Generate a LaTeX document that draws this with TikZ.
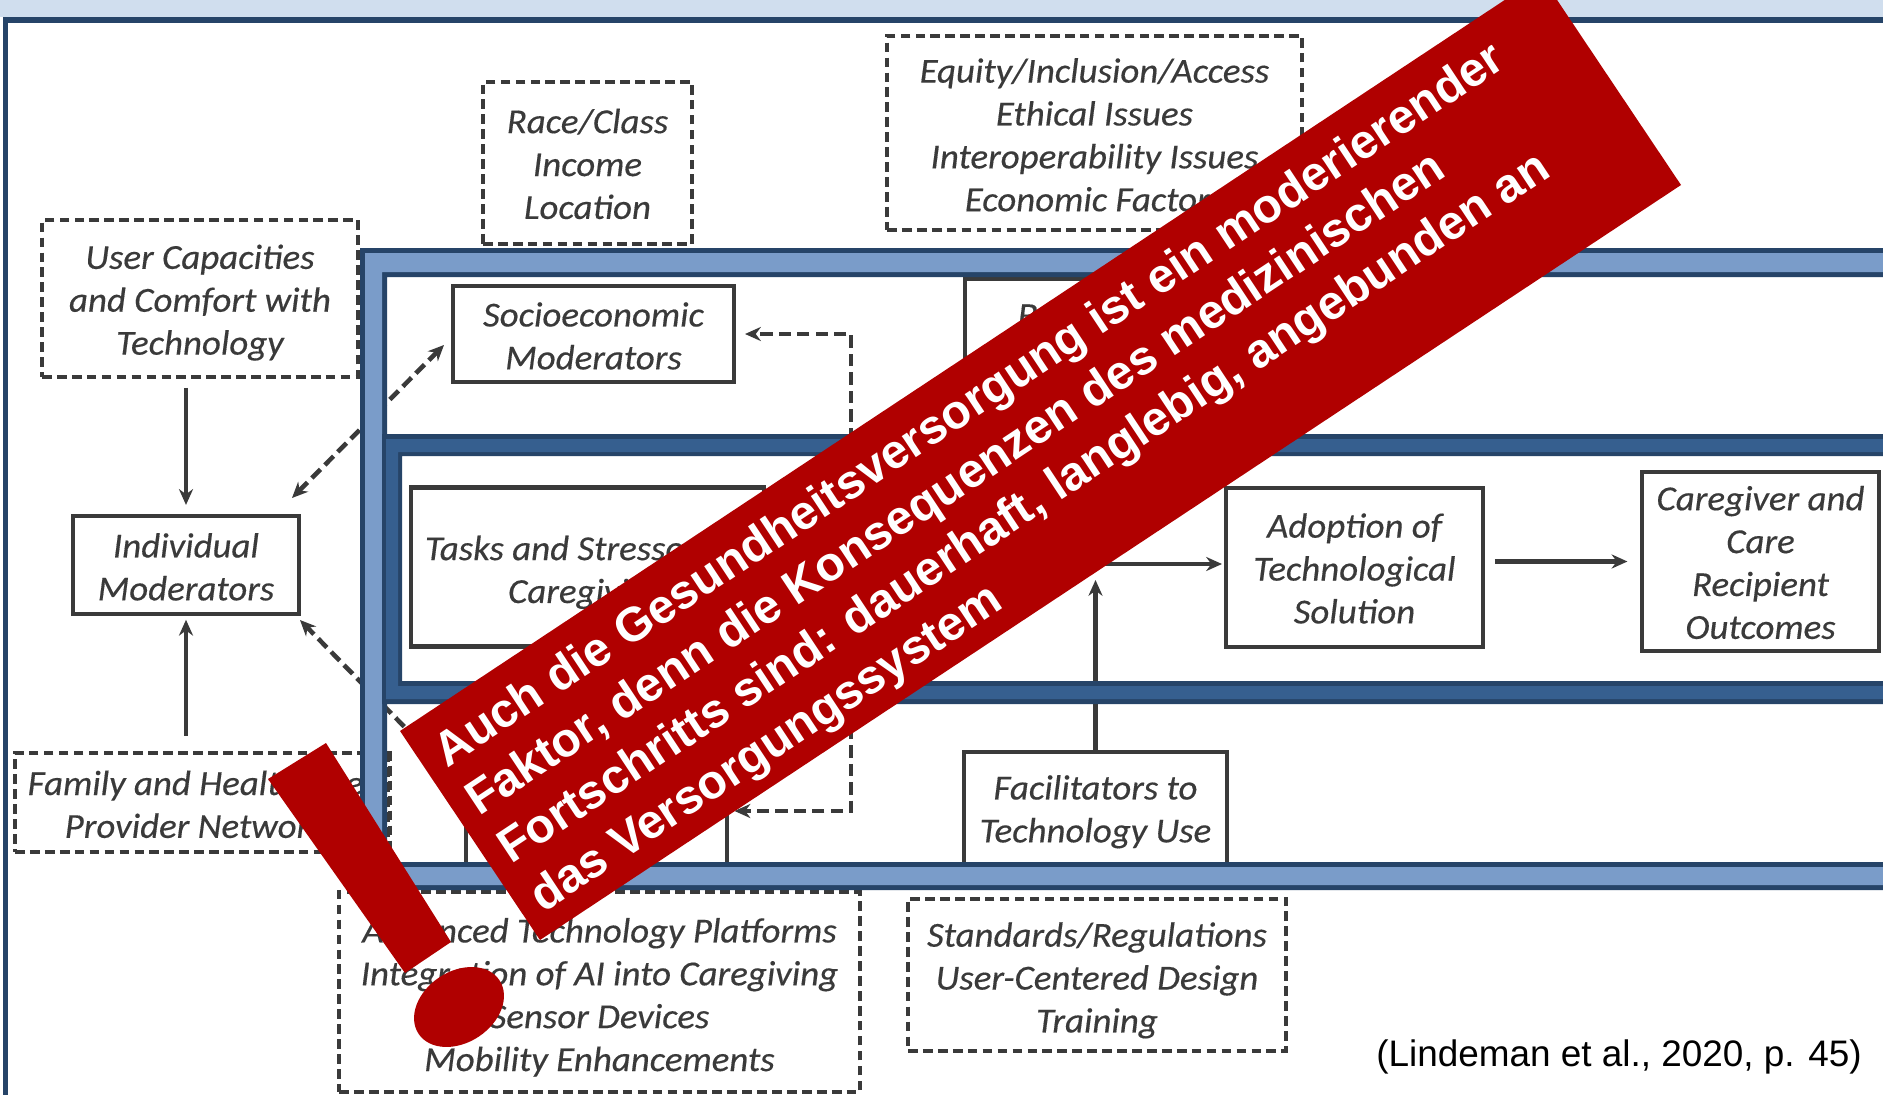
\documentclass[tikz,border=0pt]{standalone}
\usepackage{fontspec}
\setmainfont{Carlito}
\newfontfamily\lblfont{Carlito Italic}[FakeBold=0.35,FakeStretch=1.05]
\newfontfamily\arialfont{Liberation Sans}
\usetikzlibrary{arrows.meta,shapes.geometric}
\definecolor{topband}{HTML}{D0DEEE}
\definecolor{framedark}{HTML}{264468}
\definecolor{lightband}{HTML}{7A9CC9}
\definecolor{midband}{HTML}{365F8F}
\definecolor{ink}{HTML}{3A3A3A}
\definecolor{banner}{HTML}{B00000}
\newcommand{\fl}[1]{\rule{0pt}{#1pt}}
\tikzset{
  x=0.02cm,y=-0.02cm,
  lbl/.style={align=center,inner sep=0pt,text=ink,font=\lblfont\fontsize{20}{24.4}\selectfont},
  solidbox/.style={lbl,draw=ink,line width=2.6pt,fill=white},
  dashbox/.style={lbl,draw=ink,line width=2.4pt,dash pattern=on 5.5pt off 3pt},
  conn/.style={draw=ink,line width=2.4pt,-{Stealth[length=9pt,width=8pt]}},
  dconn/.style={conn,line width=2.6pt,dash pattern=on 7pt off 3.5pt},
  bannertext/.style={align=left,inner sep=0pt,text=white,rotate=33.5,
    font=\arialfont\bfseries\fontsize{27.3}{33}\selectfont}
}
\begin{document}
\begin{tikzpicture}
\useasboundingbox (0,0) rectangle (1883,1095);
\clip (0,0) rectangle (1883,1095);
\fill[white] (0,0) rectangle (1883,1095);
% page frame
\fill[topband] (0,0) rectangle (1883,17);
\fill[framedark] (3,17) rectangle (1883,23);
\fill[framedark] (3,17) rectangle (8,1095);
% dashed factor boxes
\node[dashbox,minimum width=6.32cm,minimum height=3.14cm] (user) at (200,298.5) {\fl{18.5}User Capacities\\and Comfort with\\Technology};
\node[dashbox,minimum width=4.18cm,minimum height=3.24cm] (race) at (587.5,163) {\fl{15}Race/Class\\Income\\Location};
\node[dashbox,minimum width=8.3cm,minimum height=3.88cm] (equity) at (1094.5,133) {\fl{16}Equity/Inclusion/Access\\Ethical Issues\\Interoperability Issues\\Economic Factors};
\node[dashbox,minimum width=7.46cm,minimum height=1.98cm] (family) at (201.5,802.5) {\fl{16}\hspace*{-7pt}Family and Healthcare\\\hspace*{-7pt}Provider Network};
\node[dashbox,minimum width=10.42cm,minimum height=4cm] (advanced) at (599.5,992) {\fl{20}Advanced Technology Platforms\\Integration of AI into Caregiving\\Sensor Devices\\Mobility Enhancements};
\node[dashbox,minimum width=7.56cm,minimum height=3.04cm] (standards) at (1097,975) {\fl{20}Standards/Regulations\\User-Centered Design\\Training};
% solid boxes
\node[solidbox,minimum width=4.52cm,minimum height=1.96cm] (ind) at (186,565) {\fl{16}Individual\\Moderators};
\node[solidbox,minimum width=5.62cm,minimum height=1.92cm] (socio) at (593.5,334) {\fl{16}Socioeconomic\\Moderators};
\node[solidbox,minimum width=5.24cm,minimum height=2.3cm] (barr) at (1096,336.5) {\fl{17}Barriers to\\Technology Use};
\node[solidbox,minimum width=7.06cm,minimum height=3.17cm] (tasks) at (587.5,567) {\fl{20}Tasks and Stressors of\\Caregiving};
\node[solidbox,minimum width=5.14cm,minimum height=3.18cm] (adopt) at (1354.5,567.5) {\fl{15}Adoption of\\Technological\\Solution};
\node[solidbox,minimum width=4.74cm,minimum height=3.58cm] (care) at (1760.5,561.5) {\fl{15}Caregiver and\\Care\\Recipient\\Outcomes};
\node[solidbox,minimum width=5.26cm,minimum height=2.28cm] (fac) at (1095.5,809) {\fl{17}Facilitators to\\Technology Use};
\node[solidbox,minimum width=5.22cm,minimum height=2.36cm] (low) at (596.5,811) {};
% helper points for connectors
\coordinate (diagA) at (292,498);
\coordinate (diagB) at (444,345);
\coordinate (diagC) at (300,620);
\coordinate (diagD) at (430,753);
\coordinate (elbowTop) at (851,440);
\coordinate (elbowLow) at (851,690);
\coordinate (hStart) at (1000,564);
\coordinate (facEnd) at (1095.5,580);
% connectors
\draw[conn,shorten <=5pt,shorten >=5pt] (ind.north |- user.south) -- (ind.north);
\draw[conn,shorten <=8.5pt,shorten >=2pt] (ind.south |- family.north) -- (ind.south);
\draw[dconn,{Stealth[length=9pt,width=8pt]}-{Stealth[length=9pt,width=8pt]}] (diagA) -- (diagB);
\draw[dconn] (diagD) -- (diagC);
\draw[dconn,shorten >=5pt] (elbowTop) |- (socio.east);
\draw[dconn,shorten >=3pt] (elbowLow) |- (low.east);
\draw[conn,shorten >=1pt] (hStart) -- (hStart -| adopt.west);
\draw[conn] (fac.north) -- (facEnd);
\draw[conn,shorten <=5.5pt,shorten >=7pt] (adopt.east |- care.west) -- (care.west);
% light band
\path[fill=framedark,even odd rule] (360,248) rectangle (1900,890) (387,277) rectangle (1900,862);
\path[fill=lightband,even odd rule] (365,253) rectangle (1900,885) (382,272) rectangle (1900,867);
% darker band
\path[fill=framedark,even odd rule] (382,434) rectangle (1900,704) (402,456) rectangle (1900,681);
\path[fill=midband,even odd rule] (386,439) rectangle (1900,699) (398,452) rectangle (1900,686);
% family box edge lying on top of the band
\draw[draw=ink,line width=2.1pt,dash pattern=on 5.5pt off 3pt] (family.north east) -- (family.south east);
% banner
\fill[banner] (400,731) -- (1541,-24) -- (1681,185) -- (540,940) -- cycle;
\node[bannertext,anchor=north west] (bannerlabel) at (427.5,739) {Auch die Gesundheitsversorgung ist ein moderierender\\Faktor, denn die Konsequenzen des medizinischen\\Fortschritts sind: dauerhaft, langlebig, angebunden an\\das Versorgungssystem};
% exclamation mark
\fill[banner] (326,743) -- (268,779) -- (405,973) -- (451,942) -- cycle;
\fill[banner,rotate around={33.5:(459,1007)}] (459,1007) ellipse [x radius=48.5,y radius=35.6];
% citation
\node[inner sep=0pt,text=black,font=\arialfont\fontsize{21}{24}\selectfont] (cite) at (1619,1057) {(Lindeman et al., 2020, p. 45)};
\end{tikzpicture}
\end{document}
